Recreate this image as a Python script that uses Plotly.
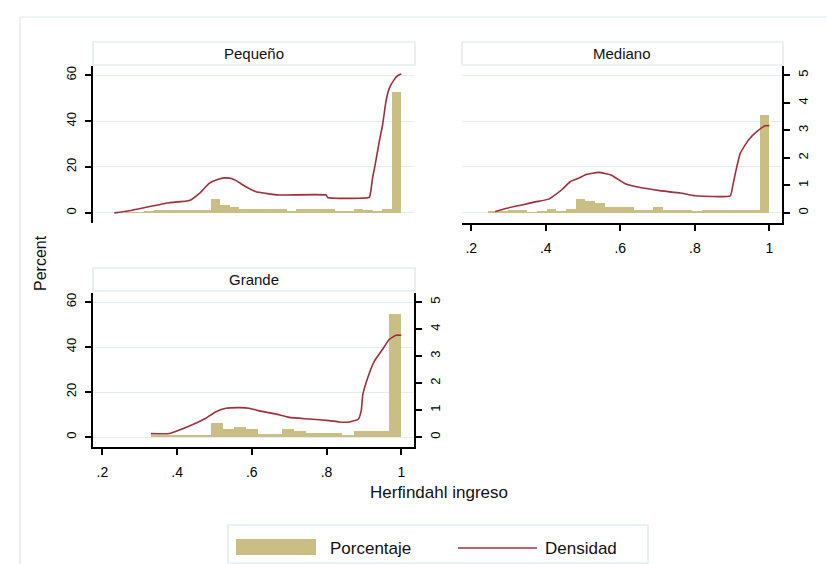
import plotly.graph_objects as go

W, H = 827, 564

# ---------------- data ----------------
panel_names = ["Pequeño", "Mediano", "Grande"]
legend_names = ["Porcentaje", "Densidad"]
x_tickvals = [0.2, 0.4, 0.6, 0.8, 1.0]
x_ticktext = [".2", ".4", ".6", ".8", "1"]
pct_ticks = [0, 20, 40, 60]
dens_ticks = [0, 1, 2, 3, 4, 5]

# Pequeño
peq_bin_width = 0.0255
peq_bins = [0.2478, 0.2733, 0.2988, 0.3243, 0.3498, 0.3753, 0.4008, 0.4263, 0.4518, 0.4773,
            0.5028, 0.5283, 0.5538, 0.5793, 0.6048, 0.6303, 0.6558, 0.6813, 0.7068, 0.7323,
            0.7578, 0.7833, 0.8088, 0.8343, 0.8598, 0.8853, 0.9108, 0.9363, 0.9618, 0.9873]
peq_pct = [0.0, 0.2, 0.3, 0.4, 1.1, 1.1, 1.1, 1.1, 1.1, 1.1,
           6.0, 3.5, 2.7, 1.6, 1.6, 1.6, 1.6, 1.6, 0.6, 1.6,
           1.6, 1.6, 1.6, 0.6, 0.6, 1.6, 1.2, 0.6, 1.7, 52.6]
peq_kx = [0.232, 0.272, 0.326, 0.379, 0.433, 0.460, 0.486, 0.510, 0.526, 0.545, 0.558, 0.584,
          0.611, 0.638, 0.674, 0.799, 0.803, 0.914, 0.918, 0.923, 0.930, 0.941, 0.950, 0.959,
          0.968, 0.981, 0.990, 1.0]
peq_kd = [0.0, 0.08, 0.23, 0.37, 0.45, 0.71, 1.07, 1.22, 1.27, 1.25, 1.17, 0.95,
          0.77, 0.71, 0.65, 0.65, 0.56, 0.56, 0.75, 1.26, 1.74, 2.59, 3.2, 4.05,
          4.53, 4.84, 4.98, 5.04]

# Mediano
med_bin_width = 0.026
med_bins = [0.259, 0.285, 0.311, 0.337, 0.363, 0.389, 0.415, 0.441, 0.467, 0.493,
            0.519, 0.545, 0.571, 0.597, 0.623, 0.649, 0.675, 0.701, 0.727, 0.753,
            0.779, 0.805, 0.831, 0.857, 0.883, 0.909, 0.935, 0.961, 0.987]
med_pct = [0.6, 0.7, 1.1, 1.2, 0.1, 0.9, 1.6, 0.7, 1.6, 6.0,
           5.2, 4.4, 2.4, 2.4, 2.4, 1.4, 1.4, 2.7, 1.4, 1.4,
           1.4, 0.7, 1.4, 1.4, 1.4, 1.4, 1.4, 1.4, 42.6]
med_kx = [0.264, 0.296, 0.336, 0.372, 0.408, 0.443, 0.466, 0.488, 0.510, 0.542, 0.575, 0.613,
          0.650, 0.710, 0.761, 0.801, 0.895, 0.902, 0.909, 0.922, 0.944, 0.967, 0.989, 1.0]
med_kd = [0.05, 0.17, 0.29, 0.40, 0.50, 0.84, 1.14, 1.26, 1.40, 1.47, 1.38, 1.06,
          0.93, 0.80, 0.72, 0.62, 0.62, 1.0, 1.45, 2.17, 2.65, 2.96, 3.16, 3.17]

# Grande
gra_bin_width = 0.0319
gra_bins = [0.3461, 0.3780, 0.4099, 0.4418, 0.4737, 0.5056, 0.5375, 0.5694, 0.6013, 0.6332,
            0.6651, 0.6970, 0.7289, 0.7608, 0.7927, 0.8246, 0.8565, 0.8884, 0.9203, 0.9522,
            0.9841]
gra_pct = [0.9, 0.9, 0.9, 0.9, 0.9, 6.1, 3.4, 4.4, 3.4, 1.5,
           1.5, 3.4, 2.5, 1.6, 1.6, 1.6, 0.9, 2.5, 2.5, 2.5,
           54.5]
gra_kx = [0.330, 0.379, 0.406, 0.442, 0.477, 0.504, 0.531, 0.567, 0.593, 0.620, 0.665, 0.700,
          0.754, 0.807, 0.834, 0.861, 0.885, 0.893, 0.897, 0.910, 0.928, 0.950, 0.968, 0.986, 1.0]
gra_kd = [0.13, 0.13, 0.26, 0.47, 0.70, 0.94, 1.07, 1.09, 1.07, 0.97, 0.85, 0.73,
          0.67, 0.61, 0.56, 0.56, 0.66, 1.0, 1.57, 2.19, 2.81, 3.25, 3.62, 3.77, 3.77]

# ---------------- styling ----------------
BAR = "#c9be84"
LINE = "#9e2f3b"
GRID = "#e4edf1"
STRIP = "#d8e5ec"
FONT = "Liberation Sans, Arial, sans-serif"
TXT = "#111111"


def px(xp):
    return xp / W


def py(yp):
    return 1 - yp / H


# panel geometry (pixels)
geo = [
    dict(x0=93, x1=414, y0=66, y1=223, sy0=42, sy1=65),
    dict(x0=462, x1=782, y0=66, y1=223, sy0=42, sy1=65),
    dict(x0=93, x1=414, y0=293, y1=447, sy0=268, sy1=291),
]

data = [
    (peq_bins, peq_pct, peq_bin_width, peq_kx, peq_kd),
    (med_bins, med_pct, med_bin_width, med_kx, med_kd),
    (gra_bins, gra_pct, gra_bin_width, gra_kx, gra_kd),
]

fig = go.Figure()
XR = [0.175, 1.034]
YR = [-4.4, 64]
Y2R = [YR[0] / 12, YR[1] / 12]

xtick_font = dict(family=FONT, size=14, color="black")
ytick_font = dict(family=FONT, size=13, color="black")

for i, (bx, bp, bw, kx, kd) in enumerate(data):
    xa = "x" if i == 0 else f"x{i+1}"
    ya_n = 2 * i + 1
    yd_n = 2 * i + 2
    ya = "y" if ya_n == 1 else f"y{ya_n}"
    yd = f"y{yd_n}"
    fig.add_trace(go.Bar(x=bx, y=bp, width=bw, marker=dict(color=BAR, line=dict(width=0)),
                         xaxis=xa, yaxis=ya, showlegend=False, hoverinfo="skip"))
    fig.add_trace(go.Scatter(x=kx, y=kd, mode="lines",
                             line=dict(color=LINE, width=1.6, shape="spline", smoothing=0.4),
                             xaxis=xa, yaxis=yd, showlegend=False, hoverinfo="skip"))

    g = geo[i]
    xdom = [px(g["x0"]), px(g["x1"])]
    ydom = [py(g["y1"]), py(g["y0"])]
    show_x = i > 0
    xkey = "xaxis" if i == 0 else f"xaxis{i+1}"
    fig.layout[xkey] = dict(
        domain=xdom, range=XR, anchor=ya, showgrid=False, zeroline=False,
        showline=show_x, linecolor="black", linewidth=2,
        ticks="outside" if show_x else "", ticklen=6, tickwidth=1.5, tickcolor="black",
        tickvals=x_tickvals, ticktext=x_ticktext, showticklabels=show_x,
        tickfont=xtick_font, ticklabelstandoff=5,
    )
    show_left = i in (0, 2)
    show_right = i in (1, 2)
    ykey = "yaxis" if ya_n == 1 else f"yaxis{ya_n}"
    fig.layout[ykey] = dict(
        domain=ydom, range=YR, anchor=xa, showgrid=True, gridcolor=GRID, gridwidth=1.3,
        zeroline=False, tickvals=pct_ticks, tickangle=-90,
        showline=show_left, linecolor="black", linewidth=2,
        ticks="outside" if show_left else "", ticklen=6, tickwidth=1.5, tickcolor="black",
        showticklabels=show_left, tickfont=ytick_font, ticklabelstandoff=4,
    )
    fig.layout[f"yaxis{yd_n}"] = dict(
        range=Y2R, overlaying=ya, anchor=xa, side="right", showgrid=False, zeroline=False,
        tickvals=dens_ticks, tickangle=-90,
        showline=show_right, linecolor="black", linewidth=2,
        ticks="outside" if show_right else "", ticklen=6, tickwidth=1.5, tickcolor="black",
        showticklabels=show_right, tickfont=ytick_font, ticklabelstandoff=2,
    )

shapes = []
annotations = []
# strips
for i, g in enumerate(geo):
    shapes.append(dict(type="rect", xref="paper", yref="paper",
                       x0=px(g["x0"]), x1=px(g["x1"] + 1), y0=py(g["sy1"]), y1=py(g["sy0"]),
                       line=dict(color=STRIP, width=1.2), fillcolor="white", layer="below"))
    annotations.append(dict(text=panel_names[i], xref="paper", yref="paper",
                            x=px((g["x0"] + g["x1"]) / 2), y=py((g["sy0"] + g["sy1"]) / 2),
                            showarrow=False, xanchor="center", yanchor="middle",
                            font=dict(family=FONT, size=15, color=TXT)))

# outer frame (top and left edges)
shapes.append(dict(type="line", xref="paper", yref="paper", x0=px(20), x1=1.0, y0=py(17), y1=py(17),
                   line=dict(color="#dde8ee", width=1.2)))
shapes.append(dict(type="line", xref="paper", yref="paper", x0=px(20), x1=px(20), y0=0, y1=py(17),
                   line=dict(color="#dde8ee", width=1.2)))

# axis titles
annotations.append(dict(text="Percent", xref="paper", yref="paper", x=px(40), y=py(263),
                        textangle=-90, showarrow=False, xanchor="center", yanchor="middle",
                        font=dict(family=FONT, size=16, color=TXT)))
annotations.append(dict(text="Herfindahl ingreso", xref="paper", yref="paper", x=px(439), y=py(492),
                        showarrow=False, xanchor="center", yanchor="middle",
                        font=dict(family=FONT, size=17, color=TXT)))

# legend
shapes.append(dict(type="rect", xref="paper", yref="paper", x0=px(228), x1=px(648), y0=py(563), y1=py(525),
                   line=dict(color=STRIP, width=1.2), fillcolor="white"))
shapes.append(dict(type="rect", xref="paper", yref="paper", x0=px(236), x1=px(316), y0=py(555), y1=py(539),
                   line=dict(width=0), fillcolor=BAR))
shapes.append(dict(type="line", xref="paper", yref="paper", x0=px(458), x1=px(537), y0=py(548), y1=py(548),
                   line=dict(color=LINE, width=1.6)))
annotations.append(dict(text=legend_names[0], xref="paper", yref="paper", x=px(328), y=py(548),
                        showarrow=False, xanchor="left", yanchor="middle",
                        font=dict(family=FONT, size=17, color=TXT)))
annotations.append(dict(text=legend_names[1], xref="paper", yref="paper", x=px(543), y=py(548),
                        showarrow=False, xanchor="left", yanchor="middle",
                        font=dict(family=FONT, size=17, color=TXT)))

fig.update_layout(
    width=W, height=H, margin=dict(l=0, r=0, t=0, b=0),
    paper_bgcolor="white", plot_bgcolor="white",
    shapes=shapes, annotations=annotations, bargap=0, showlegend=False,
    font=dict(family=FONT),
)

fig.write_html("out.html", config={"displayModeBar": False},
               post_script="document.body.style.margin='0';document.body.style.overflow='hidden';")
